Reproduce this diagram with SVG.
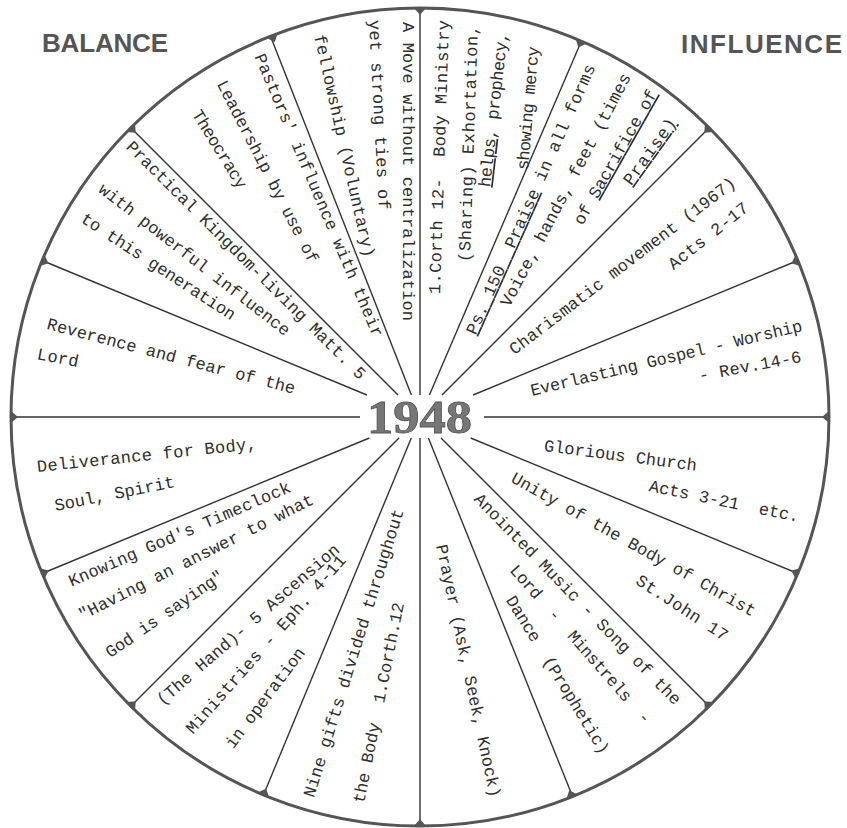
<svg xmlns="http://www.w3.org/2000/svg" width="847" height="828" viewBox="0 0 847 828" xml:space="preserve">
<style>
.t{font-family:"Liberation Mono","DejaVu Sans Mono",monospace;font-size:17px;fill:#2e2e2e;white-space:pre}
.u{text-decoration:underline}
.title{font-family:"Liberation Sans","DejaVu Sans",sans-serif;font-weight:bold;font-size:26px;fill:#555}
.sp{stroke:#333;stroke-width:1.4;fill:none}
.notch{fill:#555}
</style>
<defs>
<path id="n" class="notch" d="M-6,0 L6,0 L0,7 Z"/>
</defs>
<rect width="847" height="828" fill="#fff"/>
<g id="titles">
<text class="title" x="42" y="52" textLength="126" lengthAdjust="spacing">BALANCE</text>
<text class="title" x="681" y="53" textLength="161" lengthAdjust="spacing">INFLUENCE</text>
</g>
<g id="wheel">
<circle cx="420" cy="417" r="409" fill="none" stroke="#555" stroke-width="3"/>
</g>
<g id="connectors">
<line class="sp" x1="420" y1="8" x2="420" y2="395"/>
<line class="sp" x1="581" y1="42" x2="429.4" y2="395"/>
<line class="sp" x1="709.2" y1="127.8" x2="442" y2="395"/>
<line class="sp" x1="797.9" y1="260.5" x2="473.1" y2="395"/>
<line class="sp" x1="829" y1="417" x2="484" y2="417"/>
<line class="sp" x1="797.9" y1="573.5" x2="470.7" y2="438"/>
<line class="sp" x1="709.2" y1="706.2" x2="441" y2="438"/>
<line class="sp" x1="572" y1="795" x2="428.4" y2="438"/>
<line class="sp" x1="420" y1="826" x2="420" y2="438"/>
<line class="sp" x1="263.5" y1="794.9" x2="411.3" y2="438"/>
<line class="sp" x1="130.8" y1="706.2" x2="399" y2="438"/>
<line class="sp" x1="42.1" y1="573.5" x2="369.3" y2="438"/>
<line class="sp" x1="11" y1="417" x2="360" y2="417"/>
<line class="sp" x1="42.1" y1="260.5" x2="366.9" y2="395"/>
<line class="sp" x1="130.8" y1="127.8" x2="398" y2="395"/>
<line class="sp" x1="272" y1="40" x2="411.4" y2="395"/>
<g transform="translate(420,417)">
<use href="#n" transform="rotate(0) translate(0,-409)"/>
<use href="#n" transform="rotate(23.2) translate(0,-409)"/>
<use href="#n" transform="rotate(45) translate(0,-409)"/>
<use href="#n" transform="rotate(67.5) translate(0,-409)"/>
<use href="#n" transform="rotate(90) translate(0,-409)"/>
<use href="#n" transform="rotate(112.5) translate(0,-409)"/>
<use href="#n" transform="rotate(135) translate(0,-409)"/>
<use href="#n" transform="rotate(158.2) translate(0,-409)"/>
<use href="#n" transform="rotate(180) translate(0,-409)"/>
<use href="#n" transform="rotate(202.5) translate(0,-409)"/>
<use href="#n" transform="rotate(225) translate(0,-409)"/>
<use href="#n" transform="rotate(247.5) translate(0,-409)"/>
<use href="#n" transform="rotate(270) translate(0,-409)"/>
<use href="#n" transform="rotate(292.5) translate(0,-409)"/>
<use href="#n" transform="rotate(315) translate(0,-409)"/>
<use href="#n" transform="rotate(338.8) translate(0,-409)"/>
</g>
</g>
<g id="hub">
<text x="419.5" y="433" text-anchor="middle" font-family="'Liberation Serif','DejaVu Serif',serif" font-weight="bold" font-size="46" fill="#777" stroke="#555" stroke-width="0.8" textLength="105" lengthAdjust="spacingAndGlyphs">1948</text>
</g>
<g id="s1">
<text class="t" transform="translate(436,294) rotate(-88.1)" y="4" textLength="274">1.Corth 12-  Body Ministry</text>
<text class="t" transform="translate(466,262) rotate(-88.1)" y="4" textLength="237">(Sharing) Exhortation,</text>
<text class="t" transform="translate(486,187) rotate(-83.4)" y="4" textLength="156"><tspan class="u">helps</tspan>, prophecy,</text>
<text class="t" transform="translate(524,170) rotate(-85)" y="4" textLength="124">showing mercy</text>
</g>
<g id="s2">
<text class="t" transform="translate(472,334) rotate(-65.9)" y="4" textLength="294"><tspan class="u">Ps. 150  Praise</tspan> in all forms</text>
<text class="t" transform="translate(506,306) rotate(-62.2)" y="4" textLength="261">Voice, hands, feet (times</text>
<text class="t" transform="translate(579,224) rotate(-60.4)" y="4" textLength="152">of <tspan class="u">Sacrifice of</tspan></text>
<text class="t" transform="translate(628,184) rotate(-54.2)" y="4" textLength="78"><tspan class="u">Praise)</tspan></text>
</g>
<g id="s3">
<text class="t" transform="translate(512,352) rotate(-37.4)" y="4" textLength="280">Charismatic movement (1967)</text>
<text class="t" transform="translate(671,267) rotate(-38.3)" y="4" textLength="97">Acts 2-17</text>
</g>
<g id="s4">
<text class="t" transform="translate(531,392) rotate(-13.5)" y="4" textLength="279">Everlasting Gospel - Worship</text>
<text class="t" transform="translate(699,377) rotate(-10.5)" y="4" textLength="104">- Rev.14-6</text>
</g>
<g id="s5">
<text class="t" transform="translate(544,447) rotate(7.4)" y="4" textLength="154">Glorious Church</text>
<text class="t" transform="translate(649,487) rotate(11.7)" y="4" textLength="153">Acts 3-21  etc.</text>
</g>
<g id="s6">
<text class="t" transform="translate(512,478) rotate(29.2)" y="4" textLength="277">Unity of the Body of Christ</text>
<text class="t" transform="translate(637,580) rotate(33.1)" y="4" textLength="106">St.John 17</text>
</g>
<g id="s7">
<text class="t" transform="translate(476,497) rotate(45.7)" y="4" textLength="288">Anointed Music - Song of the</text>
<text class="t" transform="translate(512,568) rotate(48.8)" y="4" textLength="205">Lord  -  Minstrels  -</text>
<text class="t" transform="translate(509,598) rotate(58.5)" y="4" textLength="182">Dance  (Prophetic)</text>
</g>
<g id="s8">
<text class="t" transform="translate(440,545) rotate(77.9)" y="4" textLength="258">Prayer (Ask, Seek, Knock)</text>
</g>
<g id="s9">
<text class="t" transform="translate(310,797) rotate(-72.6)" y="4" textLength="301">Nine gifts divided throughout</text>
<text class="t" transform="translate(360,803) rotate(-78.7)" y="4" textLength="204">the Body  1.Corth.12</text>
</g>
<g id="s10">
<text class="t" transform="translate(160,703) rotate(-41)" y="4" textLength="236">(The Hand)- 5 Ascension</text>
<text class="t" transform="translate(190,732) rotate(-48.5)" y="4" textLength="232">Ministries - Eph. 4-11</text>
<text class="t" transform="translate(230,747) rotate(-53)" y="4" textLength="121">in operation</text>
</g>
<g id="s11">
<text class="t" transform="translate(70,583) rotate(-23.4)" y="4" textLength="240">Knowing God's Timeclock</text>
<text class="t" transform="translate(80,617) rotate(-26.7)" y="4" textLength="261">"Having an answer to what</text>
<text class="t" transform="translate(108,655) rotate(-34.8)" y="4" textLength="140">God is saying"</text>
</g>
<g id="s12">
<text class="t" transform="translate(37,468) rotate(-6)" y="4" textLength="221">Deliverance for Body,</text>
<text class="t" transform="translate(55,507) rotate(-11.3)" y="4" textLength="122">Soul, Spirit</text>
</g>
<g id="s13">
<text class="t" transform="translate(47,325) rotate(14.7)" y="4" textLength="256">Reverence and fear of the</text>
<text class="t" transform="translate(37,355) rotate(11)" y="4" textLength="42">Lord</text>
</g>
<g id="s14">
<text class="t" transform="translate(128,145) rotate(44.8)" y="4" textLength="330">Practical Kingdom-living Matt. 5</text>
<text class="t" transform="translate(100,188) rotate(37.8)" y="4" textLength="237">with powerful influence</text>
<text class="t" transform="translate(82,218) rotate(33.3)" y="4" textLength="181">to this generation</text>
</g>
<g id="s15">
<text class="t" transform="translate(258,55) rotate(67.1)" y="4" textLength="306">Pastors' influence with their</text>
<text class="t" transform="translate(220,82) rotate(62.8)" y="4" textLength="203">Leadership by use of</text>
<text class="t" transform="translate(195,112) rotate(58.3)" y="4" textLength="89">Theocracy</text>
</g>
<g id="s16">
<text class="t" transform="translate(407,22) rotate(90)" y="4" textLength="299">A Move without centralization</text>
<text class="t" transform="translate(373,20) rotate(87)" y="4" textLength="190">yet strong ties of</text>
<text class="t" transform="translate(318,35) rotate(77.3)" y="4" textLength="228">fellowship (Voluntary)</text>
</g>
</svg>
